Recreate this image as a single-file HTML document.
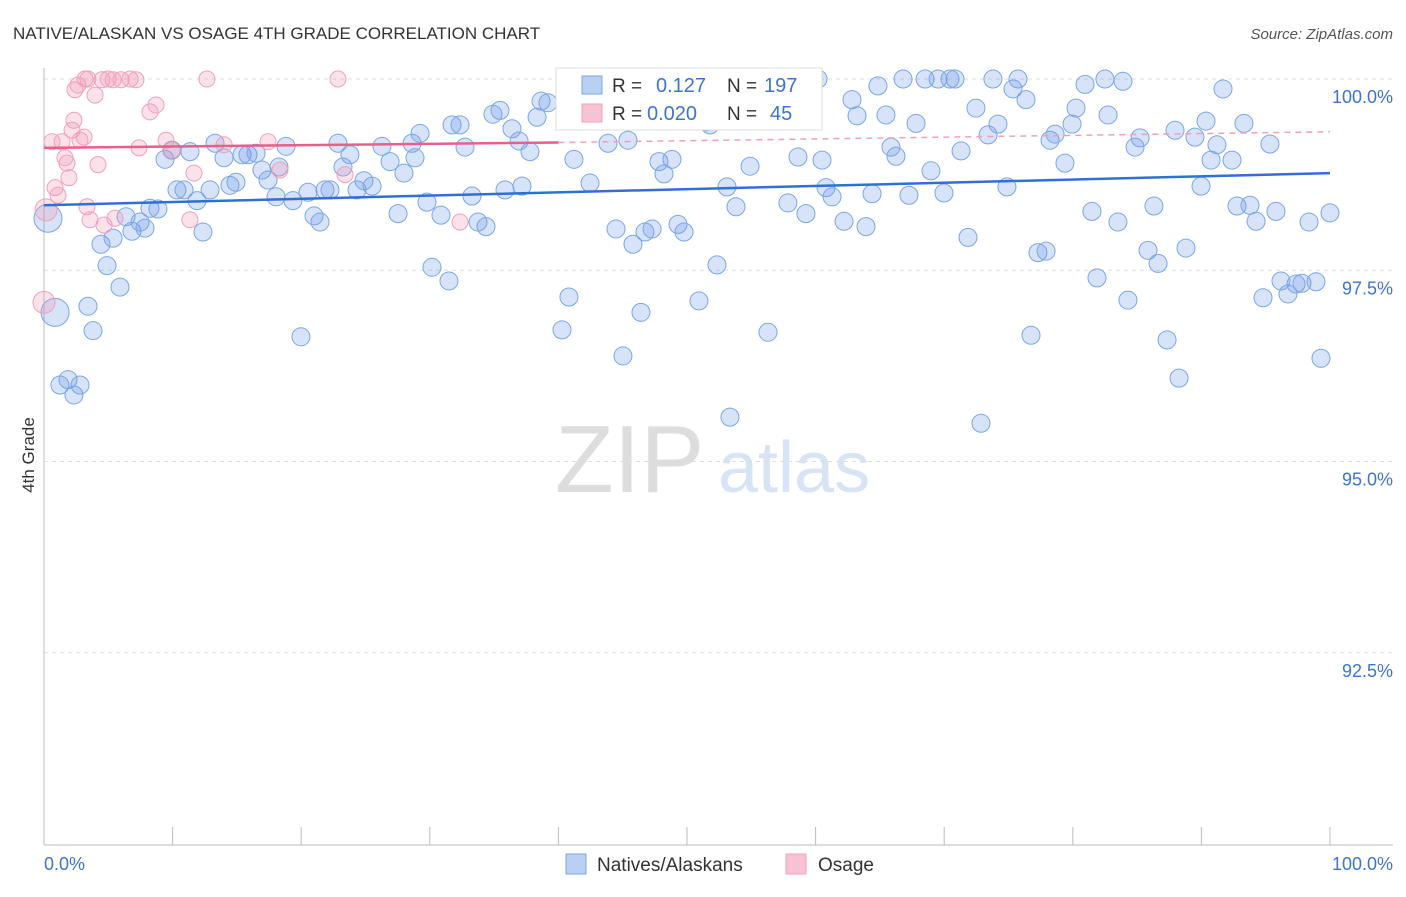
<!DOCTYPE html>
<html><head><meta charset="utf-8"><style>
body{margin:0;background:#fff;font-family:"Liberation Sans",sans-serif}
svg text{font-family:"Liberation Sans",sans-serif}
</style></head><body>
<svg id="c" width="1406" height="892">
<text x="13" y="39" font-size="17" fill="#333">NATIVE/ALASKAN VS OSAGE 4TH GRADE CORRELATION CHART</text>
<text x="1393" y="39" font-size="15" fill="#555" text-anchor="end" font-style="italic">Source: ZipAtlas.com</text>
<text x="555" y="492" font-size="96" fill="#ddd" font-family="Liberation Serif">ZIP</text>
<text x="718" y="492" font-size="72" fill="#d6e4f5">atlas</text>
<text transform="translate(34,455) rotate(-90)" font-size="17" fill="#333" text-anchor="middle">4th Grade</text>
<g id="grid"></g><g id="pts"></g><g id="trend"></g>
<g>
<rect x="556" y="68" width="266" height="62" fill="#fff" stroke="#ddd"/>
<rect x="582" y="76" width="20" height="18" fill="#b8d0f2" stroke="#7aa6e6"/>
<rect x="582" y="104" width="20" height="18" fill="#f7c3d3" stroke="#f0a0bb"/>
<text x="612" y="92" font-size="19" fill="#333">R = </text><text x="656" y="92" font-size="20" fill="#3d74d1">0.127</text>
<text x="727" y="92" font-size="19" fill="#333">N = </text><text x="764" y="92" font-size="20" fill="#3d74d1">197</text>
<text x="612" y="120" font-size="19" fill="#333">R = </text><text x="647" y="120" font-size="20" fill="#3d74d1">0.020</text>
<text x="727" y="120" font-size="19" fill="#333">N = </text><text x="770" y="120" font-size="20" fill="#3d74d1">45</text>
</g>
<g>
<rect x="566" y="854" width="20" height="20" fill="#b8d0f2" stroke="#7aa6e6"/>
<text x="597" y="871" font-size="19" fill="#333">Natives/Alaskans</text>
<rect x="786" y="854" width="20" height="20" fill="#f7c3d3" stroke="#f0a0bb"/>
<text x="818" y="871" font-size="19" fill="#333">Osage</text>
</g>
</svg>
<script>
const yTicks=[100,97.5,95,92.5];
const yTickLabels=["100.0%","97.5%","95.0%","92.5%"];
const xTicks=[0,10,20,30,40,50,60,70,80,90,100];
const blueX=[.31,.86,1.24,1.87,2.33,2.80,3.42,3.81,4.43,4.90,5.37,5.91,6.38,6.84,7.47,7.85,8.24,8.86,9.41,9.95,10.34,10.89,11.35,11.90,12.36,12.91,13.30,14.00,14.46,14.93,15.40,15.86,16.49,16.95,17.42,18.04,18.27,18.82,19.36,19.98,20.53,21.00,21.46,21.85,22.24,22.86,23.25,23.79,24.34,24.88,25.51,26.28,26.91,27.53,27.99,28.62,28.85,29.24,29.78,30.17,30.87,31.49,31.73,32.35,32.74,33.28,33.75,34.37,34.91,35.46,35.85,36.39,36.94,37.17,37.79,38.34,38.65,39.19,40.28,40.82,41.21,42.46,43.86,44.48,45.02,45.41,45.80,46.42,46.73,47.28,47.82,48.21,48.83,49.30,49.77,50.93,51.48,51.79,52.33,53.11,53.34,53.81,54.90,55.37,56.30,56.61,57.85,58.63,59.25,60.19,60.50,60.81,61.28,62.21,62.83,63.22,63.92,64.39,64.85,65.47,65.86,66.25,66.80,67.26,67.81,68.51,68.97,69.52,69.98,70.45,70.84,71.31,71.85,72.47,72.86,73.41,73.79,74.18,74.88,75.35,75.74,76.36,76.75,77.29,77.92,78.23,78.62,79.39,79.94,80.25,80.95,81.49,81.88,82.50,82.74,83.51,83.90,84.29,84.84,85.23,85.85,86.31,86.63,87.33,87.95,88.26,88.80,89.50,89.97,90.36,90.75,91.21,91.68,92.38,92.77,93.31,93.78,94.25,94.79,95.33,95.80,96.19,96.73,97.36,97.82,98.37,98.91,99.30,100];
const blueY=[98.18,96.95,96.00,96.07,95.87,96.00,97.03,96.71,97.84,97.56,97.92,97.28,98.20,98.01,98.13,98.05,98.31,98.30,98.95,99.07,98.55,98.55,99.05,98.41,98.00,98.55,99.16,98.97,98.61,98.65,99.01,99.01,99.03,98.81,98.68,98.46,98.85,99.12,98.41,96.63,98.52,98.21,98.13,98.55,98.55,99.16,98.85,99.01,98.55,98.67,98.60,99.12,98.92,98.24,98.77,99.16,98.97,99.29,98.39,97.54,98.22,97.36,99.40,99.40,99.11,98.47,98.13,98.07,99.54,99.59,98.55,99.35,99.19,98.60,99.05,99.50,99.71,99.69,96.72,97.15,98.95,98.64,99.16,98.04,96.38,99.20,97.84,96.95,98.00,98.04,98.92,98.76,98.95,98.10,98.00,97.10,99.44,99.40,97.57,98.59,95.58,98.33,98.86,99.99,96.69,99.99,98.38,98.98,98.24,100,98.94,98.58,98.46,98.14,99.73,99.52,98.07,98.50,99.91,99.53,99.11,98.99,100,98.48,99.42,100,98.80,100,98.51,100,100,99.06,97.93,99.62,95.50,99.27,100,99.41,98.59,99.87,100,99.73,96.65,97.73,97.75,99.20,99.28,98.90,99.41,99.62,99.93,98.27,97.40,100,99.53,98.13,99.97,97.11,99.11,99.23,97.76,98.34,97.59,96.59,99.33,96.09,97.79,99.24,98.60,99.45,98.94,99.14,99.87,98.94,98.34,99.42,98.35,98.14,97.14,99.15,98.27,97.36,97.19,97.32,97.33,98.13,97.35,96.35,98.25];
const pinkX=[0,.16,.62,.86,1.09,1.40,1.63,1.79,1.94,2.18,2.33,2.41,2.64,2.80,3.11,3.19,3.34,3.42,3.58,3.97,4.20,4.51,4.67,4.98,5.37,5.52,5.99,6.69,7.15,7.39,8.24,8.71,9.49,9.95,11.35,11.66,12.67,14.00,17.42,18.35,22.86,23.41,32.35];
const pinkY=[97.08,98.29,99.18,98.58,98.48,99.18,98.97,98.90,98.71,99.33,99.46,99.86,99.92,99.20,99.24,100,98.33,100,98.16,99.79,98.88,99.99,98.09,100,99.99,98.18,99.99,100,99.99,99.10,99.57,99.66,99.20,99.07,98.16,98.77,100,99.14,99.18,98.81,100,98.75,98.13];
const blueTrend=[98.35,98.77];
const pinkTrend=[99.10,99.17,99.31];
const X=v=>44+v*12.86, Y=v=>79+(100-v)*76.5;
const NS="http://www.w3.org/2000/svg";
function mk(t,a,p){const e=document.createElementNS(NS,t);for(const k in a)e.setAttribute(k,a[k]);p.appendChild(e);return e;}
const grid=document.getElementById('grid');
yTicks.forEach((t,i)=>{
 const l=mk('line',{x1:44,x2:1393,y1:Y(t),y2:Y(t),stroke:'#ddd','stroke-dasharray':'4,4'},grid);
 
 
 const tx=mk('text',{x:1393,y:Y(t)+24,'font-size':18,fill:'#3d74d1','text-anchor':'end'},grid);
 tx.textContent=yTickLabels[i];
 
 
});
const ax=mk('line',{x1:44,x2:44,y1:68,y2:845,stroke:'#bbb'},grid);


const bx=mk('line',{x1:44,x2:1393,y1:845,y2:845,stroke:'#bbb'},grid);


xTicks.forEach(t=>{const l=mk('line',{x1:X(t),x2:X(t),y1:827,y2:845,stroke:'#bbb'},grid);
 
 });
[[0,"0.0%",'start',44],[100,"100.0%",'end',1393]].forEach(d=>{const tx=mk('text',{x:d[3],y:870,'font-size':18,fill:'#3d74d1','text-anchor':d[2]},grid);tx.textContent=d[1];
 
 });
const pts=document.getElementById('pts');
blueX.forEach((x,i)=>{const c=mk('circle',{cx:X(x),cy:Y(blueY[i]),r:i<2?14:9,fill:'rgba(110,155,230,0.28)',stroke:'#7aa6e6','stroke-width':1},pts);
 
 });
pinkX.forEach((x,i)=>{const c=mk('circle',{cx:X(x),cy:Y(pinkY[i]),r:i<2?11:8,fill:'rgba(240,150,180,0.28)',stroke:'#f0a0bb','stroke-width':1},pts);
 
 });
const tr=document.getElementById('trend');
const b=mk('line',{x1:X(0),x2:X(100),y1:Y(blueTrend[0]),y2:Y(blueTrend[1]),stroke:'#2f6fd6','stroke-width':2.5},tr);


const p=mk('line',{x1:X(0),x2:X(40),y1:Y(pinkTrend[0]),y2:Y(pinkTrend[1]),stroke:'#e8608a','stroke-width':2.5},tr);


const pd=mk('line',{x1:X(40),x2:X(100),y1:Y(pinkTrend[1]),y2:Y(pinkTrend[2]),stroke:'#f0a0bb','stroke-width':1.5,'stroke-dasharray':'6,5'},tr);


</script>
</body></html>
